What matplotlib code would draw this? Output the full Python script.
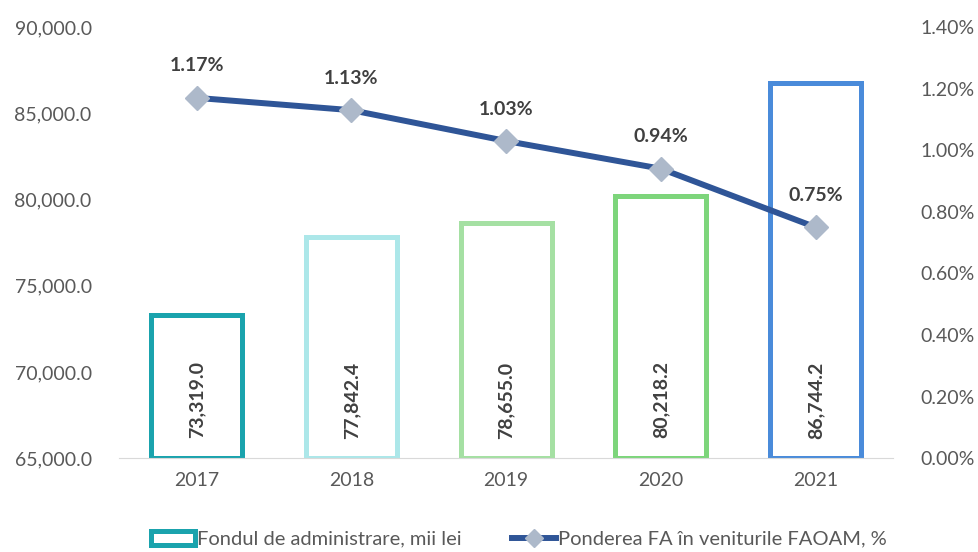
import numpy as np
import matplotlib.pyplot as plt
from matplotlib.ticker import FuncFormatter

plt.rcParams['font.family'] = ['Lato', 'DejaVu Sans']

years = ['2017', '2018', '2019', '2020', '2021']
fond = [73319.0, 77842.4, 78655.0, 80218.2, 86744.2]
pondere = [1.17, 1.13, 1.03, 0.94, 0.75]
bar_colors = ['#1AA3AD', '#ACE7E9', '#A5E0A3', '#7DD57B', '#4A8BDA']

fig = plt.figure(figsize=(9.79, 5.52), dpi=100)
ax = fig.add_axes([0.122, 0.170, 0.790, 0.781])
ax2 = ax.twinx()

x = np.arange(len(years))
bars = ax.bar(x, np.array(fond) - 65000, bottom=65000, width=0.59,
              facecolor='white', edgecolor=bar_colors, linewidth=3.6,
              label='Fondul de administrare, mii lei', zorder=2)
ax.set_ylim(65000, 90000)
ax.set_xlim(-0.5, len(years) - 0.5)
ax.set_yticks(np.arange(65000, 90001, 5000))
ax.yaxis.set_major_formatter(FuncFormatter(lambda v, p: f'{v:,.1f}'))
ax.set_xticks(x)
ax.set_xticklabels(years)

for xi, v in zip(x, fond):
    ax.text(xi, 0.135, f'{v:,.1f}', rotation=90, ha='center', va='center',
            transform=ax.get_xaxis_transform(), fontsize=14, fontweight='bold',
            color='#404040', zorder=3)

ax2.plot(x, pondere, color='#2F5597', linewidth=4.3, marker='D',
         markersize=12, markerfacecolor='#ADB9CA', markeredgecolor='#ADB9CA',
         label='Ponderea FA în veniturile FAOAM, %', zorder=4)
ax2.set_ylim(0, 1.4)
ax2.set_yticks(np.arange(0, 1.41, 0.2))
ax2.yaxis.set_major_formatter(FuncFormatter(lambda v, p: f'{v:.2f}%'))
for xi, v in zip(x, pondere):
    ax2.annotate(f'{v:.2f}%', (xi, v), xytext=(0, 23), textcoords='offset points',
                 ha='center', va='center', fontsize=14, fontweight='bold',
                 color='#404040')

for a in (ax, ax2):
    for s in a.spines.values():
        s.set_visible(False)
    a.tick_params(length=0, labelsize=14, colors='#595959')
ax.spines['bottom'].set_visible(True)
ax.spines['bottom'].set_color('#D9D9D9')
ax.tick_params(axis='y', pad=20)
ax2.tick_params(axis='y', pad=20)
ax.tick_params(axis='x', pad=10)

h1, l1 = ax.get_legend_handles_labels()
h2, l2 = ax2.get_legend_handles_labels()
fig.legend(h1 + h2, l1 + l2, loc='lower center', bbox_to_anchor=(0.53, -0.025),
           ncol=2, frameon=False, fontsize=14.5, labelcolor='#595959',
           columnspacing=2.5, handlelength=2.2, handletextpad=0.1,
           markerscale=0.8)

fig.savefig('out.png', dpi=100)
